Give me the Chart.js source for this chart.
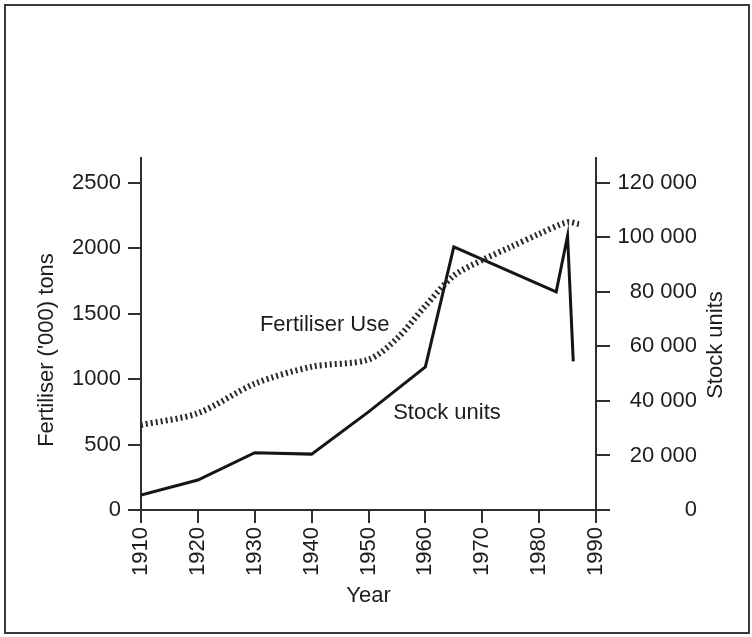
<!DOCTYPE html>
<html>
<head>
<meta charset="utf-8">
<script src="https://cdn.jsdelivr.net/npm/chart.js@4.4.1/dist/chart.umd.min.js"></script>
<style>
  html, body { margin: 0; padding: 0; background: #fff; }
  .wrap { position: relative; width: 752px; height: 637px; }
  .frame {
    position: absolute; left: 4px; top: 4px; width: 742px; height: 626px;
    border: 2px solid #3a3a3a; pointer-events: none;
  }
  canvas { position: absolute; left: 0; top: 0; }
</style>
</head>
<body>
<div class="wrap">
  <canvas id="chart" width="752" height="637"></canvas>
  <div class="frame"></div>
</div>
<script>
// Stock units (right axis)
const stockYears = [1910, 1920, 1930, 1940, 1950, 1960, 1965, 1983, 1985, 1986];
const stockUnits = [5500, 11000, 21000, 20500, 36000, 52500, 96500, 80000, 100500, 54500];

// Fertiliser use, '000 tons (left axis)
const fertYears = [1910, 1920, 1930, 1940, 1950, 1955, 1960, 1965, 1970, 1975, 1980, 1985, 1987];
const fertTons = [650, 740, 965, 1095, 1150, 1310, 1560, 1790, 1910, 2010, 2110, 2200, 2185];

const xTicks = [1910, 1920, 1930, 1940, 1950, 1960, 1970, 1980, 1990];
const leftTicks = [0, 500, 1000, 1500, 2000, 2500];
const rightTicks = [0, 20000, 40000, 60000, 80000, 100000, 120000];

const INK = "#1c1c1c";
const AXIS = "#2e2e2e";
const FONT = "'Liberation Sans', Arial, Helvetica, sans-serif";

Chart.defaults.font.family = FONT;
Chart.defaults.font.size = 22;
Chart.defaults.color = INK;

const spaced = (v) => String(v).replace(/\B(?=(\d{3})+(?!\d))/g, " ");

// in-chart labels and the two vertical axis titles
const textPlugin = {
    id: "texts",
    afterDraw(chart) {
        const { ctx, scales } = chart;
        ctx.save();
        ctx.fillStyle = INK;
        ctx.font = `22px ${FONT}`;
        ctx.textAlign = "center";
        ctx.textBaseline = "middle";
        ctx.fillText("Fertiliser Use", scales.x.getPixelForValue(1942.3), scales.y.getPixelForValue(1414));
        ctx.fillText("Stock units", scales.x.getPixelForValue(1963.8), scales.y.getPixelForValue(742));

        ctx.translate(47, 350);
        ctx.rotate(-Math.PI / 2);
        ctx.fillText("Fertiliser ('000) tons", 0, 0);
        ctx.restore();

        ctx.save();
        ctx.fillStyle = INK;
        ctx.font = `22px ${FONT}`;
        ctx.textAlign = "center";
        ctx.textBaseline = "middle";
        ctx.translate(716, 345);
        ctx.rotate(-Math.PI / 2);
        ctx.fillText("Stock units", 0, 0);
        ctx.restore();
    },
};

new Chart(document.getElementById("chart"), {
    type: "line",
    data: {
        datasets: [
            {
                label: "Fertiliser Use",
                data: fertYears.map((x, i) => ({ x, y: fertTons[i] })),
                yAxisID: "y",
                borderColor: "#2a2a2a",
                borderWidth: 6,
                borderDash: [2, 3],
                pointRadius: 0,
                tension: 0.3,
            },
            {
                label: "Stock units",
                data: stockYears.map((x, i) => ({ x, y: stockUnits[i] })),
                yAxisID: "y1",
                borderColor: "#151515",
                borderWidth: 3,
                pointRadius: 0,
                tension: 0,
                borderJoinStyle: "miter",
            },
        ],
    },
    options: {
        responsive: false,
        animation: false,
        layout: { padding: { top: 158, left: 0, right: 55, bottom: 0 } },
        plugins: {
            legend: { display: false },
            tooltip: { enabled: false },
        },
        scales: {
            x: {
                type: "linear",
                min: 1910,
                max: 1990,
                afterBuildTicks: (s) => { s.ticks = xTicks.map((v) => ({ value: v })); },
                afterFit: (s) => { s.height = 127; },
                ticks: {
                    minRotation: 90,
                    maxRotation: 90,
                    padding: 4,
                    color: INK,
                    callback: (v) => String(v),
                },
                grid: { drawOnChartArea: false, tickLength: 13, color: AXIS, lineWidth: 2 },
                border: { color: AXIS, width: 2 },
                title: { display: true, text: "Year", color: INK, font: { size: 22 }, padding: { top: 0, bottom: 28 } },
            },
            y: {
                position: "left",
                min: 0,
                max: 2690,
                afterBuildTicks: (s) => { s.ticks = leftTicks.map((v) => ({ value: v })); },
                afterFit: (s) => { s.width = 141; },
                ticks: { padding: 7, color: INK, callback: (v) => String(v) },
                grid: { drawOnChartArea: false, tickLength: 13, color: AXIS, lineWidth: 2 },
                border: { color: AXIS, width: 2 },
            },
            y1: {
                position: "right",
                min: 0,
                max: 129120,
                afterBuildTicks: (s) => { s.ticks = rightTicks.map((v) => ({ value: v })); },
                afterFit: (s) => { s.width = 101; },
                ticks: { padding: 6, color: INK, crossAlign: "far", callback: (v) => spaced(v) },
                grid: { drawOnChartArea: false, tickLength: 14, color: AXIS, lineWidth: 2 },
                border: { color: AXIS, width: 2 },
            },
        },
    },
    plugins: [textPlugin],
});
</script>
</body>
</html>
